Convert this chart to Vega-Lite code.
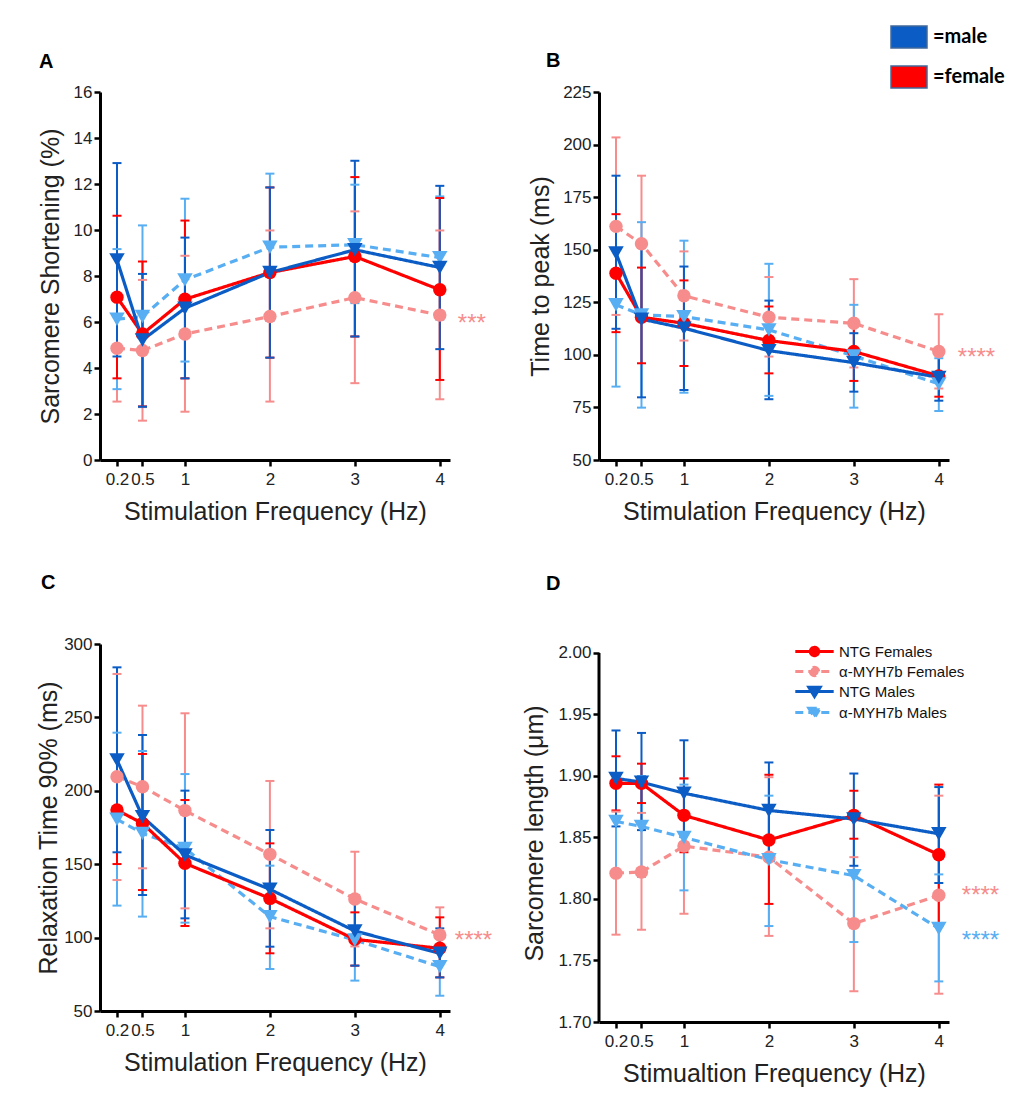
{
  "$schema": "https://vega.github.io/schema/vega-lite/v6.json",
  "padding": {"left": 36, "top": 18, "right": 5, "bottom": 5},
  "datasets": {
    "d": [
      {"p":"A","s":"α-MYH7b Females","f":0.2,"m":4.86,"lo":2.54,"hi":7.18},
      {"p":"A","s":"α-MYH7b Females","f":0.5,"m":4.76,"lo":1.71,"hi":7.83},
      {"p":"A","s":"α-MYH7b Females","f":1,"m":5.48,"lo":2.10,"hi":8.88},
      {"p":"A","s":"α-MYH7b Females","f":2,"m":6.24,"lo":2.54,"hi":9.98},
      {"p":"A","s":"α-MYH7b Females","f":3,"m":7.06,"lo":3.34,"hi":10.81},
      {"p":"A","s":"α-MYH7b Females","f":4,"m":6.30,"lo":2.64,"hi":9.98},
      {"p":"A","s":"α-MYH7b Males","f":0.2,"m":6.12,"lo":3.08,"hi":9.17},
      {"p":"A","s":"α-MYH7b Males","f":0.5,"m":6.24,"lo":2.30,"hi":10.20},
      {"p":"A","s":"α-MYH7b Males","f":1,"m":7.83,"lo":4.28,"hi":11.36},
      {"p":"A","s":"α-MYH7b Males","f":2,"m":9.25,"lo":6.05,"hi":12.45},
      {"p":"A","s":"α-MYH7b Males","f":3,"m":9.36,"lo":6.82,"hi":11.97},
      {"p":"A","s":"α-MYH7b Males","f":4,"m":8.80,"lo":6.10,"hi":11.46},
      {"p":"A","s":"NTG Females","f":0.2,"m":7.08,"lo":3.55,"hi":10.62},
      {"p":"A","s":"NTG Females","f":0.5,"m":5.48,"lo":2.33,"hi":8.63},
      {"p":"A","s":"NTG Females","f":1,"m":6.99,"lo":3.55,"hi":10.41},
      {"p":"A","s":"NTG Females","f":2,"m":8.15,"lo":4.45,"hi":11.85},
      {"p":"A","s":"NTG Females","f":3,"m":8.85,"lo":5.37,"hi":12.30},
      {"p":"A","s":"NTG Females","f":4,"m":7.40,"lo":3.48,"hi":11.39},
      {"p":"A","s":"NTG Males","f":0.2,"m":8.70,"lo":4.50,"hi":12.91},
      {"p":"A","s":"NTG Males","f":0.5,"m":5.22,"lo":2.32,"hi":8.09},
      {"p":"A","s":"NTG Males","f":1,"m":6.60,"lo":3.55,"hi":9.67},
      {"p":"A","s":"NTG Males","f":2,"m":8.15,"lo":4.45,"hi":11.85},
      {"p":"A","s":"NTG Males","f":3,"m":9.14,"lo":5.37,"hi":13.01},
      {"p":"A","s":"NTG Males","f":4,"m":8.37,"lo":4.82,"hi":11.92},

      {"p":"B","s":"α-MYH7b Females","f":0.2,"m":161.1,"lo":119.0,"hi":203.4},
      {"p":"B","s":"α-MYH7b Females","f":0.5,"m":152.8,"lo":120.5,"hi":185.2},
      {"p":"B","s":"α-MYH7b Females","f":1,"m":128.1,"lo":106.8,"hi":149.2},
      {"p":"B","s":"α-MYH7b Females","f":2,"m":117.9,"lo":99.2,"hi":137.0},
      {"p":"B","s":"α-MYH7b Females","f":3,"m":115.0,"lo":94.0,"hi":136.0},
      {"p":"B","s":"α-MYH7b Females","f":4,"m":101.6,"lo":84.0,"hi":119.3},
      {"p":"B","s":"α-MYH7b Males","f":0.2,"m":123.8,"lo":84.9,"hi":162.7},
      {"p":"B","s":"α-MYH7b Males","f":0.5,"m":119.0,"lo":74.9,"hi":163.1},
      {"p":"B","s":"α-MYH7b Males","f":1,"m":118.2,"lo":82.0,"hi":154.3},
      {"p":"B","s":"α-MYH7b Males","f":2,"m":111.9,"lo":80.5,"hi":143.3},
      {"p":"B","s":"α-MYH7b Males","f":3,"m":99.5,"lo":74.9,"hi":123.8},
      {"p":"B","s":"α-MYH7b Males","f":4,"m":86.2,"lo":73.3,"hi":98.4},
      {"p":"B","s":"NTG Females","f":0.2,"m":138.8,"lo":110.8,"hi":166.9},
      {"p":"B","s":"NTG Females","f":0.5,"m":117.9,"lo":96.0,"hi":141.5},
      {"p":"B","s":"NTG Females","f":1,"m":115.0,"lo":94.7,"hi":135.4},
      {"p":"B","s":"NTG Females","f":2,"m":106.8,"lo":91.2,"hi":123.0},
      {"p":"B","s":"NTG Females","f":3,"m":101.6,"lo":87.6,"hi":115.6},
      {"p":"B","s":"NTG Females","f":4,"m":90.0,"lo":80.1,"hi":100.0},
      {"p":"B","s":"NTG Males","f":0.2,"m":148.4,"lo":112.4,"hi":185.2},
      {"p":"B","s":"NTG Males","f":0.5,"m":117.0,"lo":79.8,"hi":154.4},
      {"p":"B","s":"NTG Males","f":1,"m":112.7,"lo":83.3,"hi":142.0},
      {"p":"B","s":"NTG Males","f":2,"m":102.0,"lo":78.9,"hi":125.8},
      {"p":"B","s":"NTG Males","f":3,"m":96.3,"lo":82.5,"hi":110.3},
      {"p":"B","s":"NTG Males","f":4,"m":89.3,"lo":78.2,"hi":100.0},

      {"p":"C","s":"α-MYH7b Females","f":0.2,"m":209.6,"lo":139.2,"hi":279.6},
      {"p":"C","s":"α-MYH7b Females","f":0.5,"m":202.8,"lo":147.2,"hi":258.0},
      {"p":"C","s":"α-MYH7b Females","f":1,"m":186.5,"lo":119.9,"hi":252.8},
      {"p":"C","s":"α-MYH7b Females","f":2,"m":156.7,"lo":106.3,"hi":206.7},
      {"p":"C","s":"α-MYH7b Females","f":3,"m":126.3,"lo":94.0,"hi":158.5},
      {"p":"C","s":"α-MYH7b Females","f":4,"m":101.8,"lo":83.0,"hi":120.6},
      {"p":"C","s":"α-MYH7b Males","f":0.2,"m":180.6,"lo":121.8,"hi":239.6},
      {"p":"C","s":"α-MYH7b Males","f":0.5,"m":171.0,"lo":114.3,"hi":227.1},
      {"p":"C","s":"α-MYH7b Males","f":1,"m":160.8,"lo":110.2,"hi":211.4},
      {"p":"C","s":"α-MYH7b Males","f":2,"m":114.3,"lo":78.6,"hi":149.0},
      {"p":"C","s":"α-MYH7b Males","f":3,"m":98.4,"lo":70.7,"hi":126.0},
      {"p":"C","s":"α-MYH7b Males","f":4,"m":80.2,"lo":60.4,"hi":100.2},
      {"p":"C","s":"NTG Females","f":0.2,"m":186.9,"lo":150.1,"hi":224.4},
      {"p":"C","s":"NTG Females","f":0.5,"m":177.8,"lo":132.4,"hi":225.1},
      {"p":"C","s":"NTG Females","f":1,"m":150.6,"lo":107.9,"hi":193.7},
      {"p":"C","s":"NTG Females","f":2,"m":126.7,"lo":89.3,"hi":164.2},
      {"p":"C","s":"NTG Females","f":3,"m":98.8,"lo":80.9,"hi":117.2},
      {"p":"C","s":"NTG Females","f":4,"m":92.7,"lo":72.9,"hi":113.8},
      {"p":"C","s":"NTG Males","f":0.2,"m":221.0,"lo":158.1,"hi":284.1},
      {"p":"C","s":"NTG Males","f":0.5,"m":182.4,"lo":129.0,"hi":238.0},
      {"p":"C","s":"NTG Males","f":1,"m":156.3,"lo":113.1,"hi":200.1},
      {"p":"C","s":"NTG Males","f":2,"m":132.9,"lo":93.8,"hi":173.3},
      {"p":"C","s":"NTG Males","f":3,"m":104.5,"lo":80.9,"hi":129.0},
      {"p":"C","s":"NTG Males","f":4,"m":89.3,"lo":72.9,"hi":106.3},

      {"p":"D","s":"α-MYH7b Females","f":0.2,"m":1.821,"lo":1.771,"hi":1.871},
      {"p":"D","s":"α-MYH7b Females","f":0.5,"m":1.822,"lo":1.775,"hi":1.870},
      {"p":"D","s":"α-MYH7b Females","f":1,"m":1.843,"lo":1.788,"hi":1.898},
      {"p":"D","s":"α-MYH7b Females","f":2,"m":1.834,"lo":1.770,"hi":1.899},
      {"p":"D","s":"α-MYH7b Females","f":3,"m":1.780,"lo":1.725,"hi":1.834},
      {"p":"D","s":"α-MYH7b Females","f":4,"m":1.803,"lo":1.723,"hi":1.884},
      {"p":"D","s":"α-MYH7b Males","f":0.2,"m":1.863,"lo":1.822,"hi":1.902},
      {"p":"D","s":"α-MYH7b Males","f":0.5,"m":1.859,"lo":1.818,"hi":1.900},
      {"p":"D","s":"α-MYH7b Males","f":1,"m":1.850,"lo":1.807,"hi":1.893},
      {"p":"D","s":"α-MYH7b Males","f":2,"m":1.832,"lo":1.778,"hi":1.884},
      {"p":"D","s":"α-MYH7b Males","f":3,"m":1.819,"lo":1.765,"hi":1.870},
      {"p":"D","s":"α-MYH7b Males","f":4,"m":1.776,"lo":1.733,"hi":1.820},
      {"p":"D","s":"NTG Females","f":0.2,"m":1.894,"lo":1.872,"hi":1.916},
      {"p":"D","s":"NTG Females","f":0.5,"m":1.894,"lo":1.878,"hi":1.910},
      {"p":"D","s":"NTG Females","f":1,"m":1.868,"lo":1.838,"hi":1.898},
      {"p":"D","s":"NTG Females","f":2,"m":1.848,"lo":1.796,"hi":1.901},
      {"p":"D","s":"NTG Females","f":3,"m":1.868,"lo":1.849,"hi":1.888},
      {"p":"D","s":"NTG Females","f":4,"m":1.836,"lo":1.778,"hi":1.893},
      {"p":"D","s":"NTG Males","f":0.2,"m":1.898,"lo":1.859,"hi":1.937},
      {"p":"D","s":"NTG Males","f":0.5,"m":1.895,"lo":1.856,"hi":1.935},
      {"p":"D","s":"NTG Males","f":1,"m":1.886,"lo":1.843,"hi":1.929},
      {"p":"D","s":"NTG Males","f":2,"m":1.872,"lo":1.832,"hi":1.911},
      {"p":"D","s":"NTG Males","f":3,"m":1.865,"lo":1.827,"hi":1.902},
      {"p":"D","s":"NTG Males","f":4,"m":1.853,"lo":1.813,"hi":1.891}
    ],
    "ann": [
      {"p":"A","s":"α-MYH7b Females","f":4,"y":6.17,"t":"***"},
      {"p":"B","s":"α-MYH7b Females","f":4,"y":101.4,"t":"****"},
      {"p":"C","s":"α-MYH7b Females","f":4,"y":101.8,"t":"****"},
      {"p":"D","s":"α-MYH7b Females","f":4,"y":1.807,"t":"****"},
      {"p":"D","s":"α-MYH7b Males","f":4,"y":1.771,"t":"****"}
    ],
    "sex": [{"sex":"male"},{"sex":"female"}],
    "one": [{"k":1}]
  },
  "columns": 2,
  "bounds": "flush",
  "spacing": {"row": 184, "column": 149},
  "resolve": {"legend": {"fill": "independent", "strokeDash": "independent", "color": "independent"}},
  "concat": [
    {
      "width": 350, "height": 368,
      "title": {"text": "A", "dx": -61, "offset": 11},
      "layer": [
        {"data": {"name": "d"}, "transform": [{"filter": "datum.p === 'A'"}],
         "mark": {"type": "rule", "strokeWidth": 2},
         "encoding": {
           "x": {"field": "f", "type": "quantitative", "scale": {"domain": [0, 4.12], "nice": false}, "axis": {"values": [0.2, 0.5, 1, 2, 3, 4], "format": "~g", "title": "Stimulation Frequency (Hz)"}},
           "y": {"field": "lo", "type": "quantitative", "scale": {"domain": [0, 16], "nice": false}, "axis": {"values": [0, 2, 4, 6, 8, 10, 12, 14, 16], "title": "Sarcomere Shortening (%)", "titlePadding": 10}},
           "y2": {"field": "hi"},
           "color": {"field": "s", "type": "nominal", "scale": {"domain": ["NTG Females", "α-MYH7b Females", "NTG Males", "α-MYH7b Males"], "range": ["#ff0000", "#f78c8c", "#0b5cc4", "#58aef2"]}, "legend": null}
         }},
        {"data": {"name": "d"}, "transform": [{"filter": "datum.p === 'A'"}],
         "mark": {"type": "tick", "orient": "horizontal", "size": 9, "thickness": 2, "opacity": 1},
         "encoding": {"x": {"field": "f", "type": "quantitative"}, "y": {"field": "lo", "type": "quantitative"}, "color": {"field": "s", "type": "nominal", "legend": null}}},
        {"data": {"name": "d"}, "transform": [{"filter": "datum.p === 'A'"}],
         "mark": {"type": "tick", "orient": "horizontal", "size": 9, "thickness": 2, "opacity": 1},
         "encoding": {"x": {"field": "f", "type": "quantitative"}, "y": {"field": "hi", "type": "quantitative"}, "color": {"field": "s", "type": "nominal", "legend": null}}},
        {"data": {"name": "d"}, "transform": [{"filter": "datum.p === 'A'"}],
         "mark": {"type": "line", "strokeWidth": 3.2},
         "encoding": {"x": {"field": "f", "type": "quantitative"}, "y": {"field": "m", "type": "quantitative"}, "color": {"field": "s", "type": "nominal", "legend": null},
           "strokeDash": {"field": "s", "type": "nominal", "scale": {"domain": ["NTG Females", "α-MYH7b Females", "NTG Males", "α-MYH7b Males"], "range": [[1, 0], [8, 5], [1, 0], [8, 5]]}, "legend": null}}},
        {"data": {"name": "d"}, "transform": [{"filter": "datum.p === 'A' && indexof(datum.s, 'Females') >= 0"}],
         "mark": {"type": "point", "shape": "circle", "size": 180, "filled": true, "opacity": 1},
         "encoding": {"x": {"field": "f", "type": "quantitative"}, "y": {"field": "m", "type": "quantitative"}, "color": {"field": "s", "type": "nominal", "legend": null}}},
        {"data": {"name": "d"}, "transform": [{"filter": "datum.p === 'A' && indexof(datum.s, 'Females') < 0"}],
         "mark": {"type": "point", "shape": "triangle-down", "size": 240, "filled": true, "opacity": 1},
         "encoding": {"x": {"field": "f", "type": "quantitative"}, "y": {"field": "m", "type": "quantitative"}, "color": {"field": "s", "type": "nominal", "legend": null}}},
        {"data": {"name": "ann"}, "transform": [{"filter": "datum.p === 'A'"}],
         "mark": {"type": "text", "fontSize": 24, "align": "left", "baseline": "alphabetic", "dx": 18, "dy": 13},
         "encoding": {"x": {"field": "f", "type": "quantitative"}, "y": {"field": "y", "type": "quantitative"}, "text": {"field": "t"}, "color": {"field": "s", "type": "nominal", "legend": null}}}
      ]
    },
    {
      "width": 350, "height": 368,
      "title": {"text": "B", "dx": -53, "offset": 16, "dy": 69},
      "layer": [
        {"data": {"name": "d"}, "transform": [{"filter": "datum.p === 'B'"}],
         "mark": {"type": "rule", "strokeWidth": 2},
         "encoding": {
           "x": {"field": "f", "type": "quantitative", "scale": {"domain": [0, 4.12], "nice": false}, "axis": {"values": [0.2, 0.5, 1, 2, 3, 4], "format": "~g", "title": "Stimulation Frequency (Hz)"}},
           "y": {"field": "lo", "type": "quantitative", "scale": {"domain": [50, 225], "nice": false}, "axis": {"values": [50, 75, 100, 125, 150, 175, 200, 225], "title": "Time to peak (ms)", "titlePadding": 9}},
           "y2": {"field": "hi"},
           "color": {"field": "s", "type": "nominal", "legend": null}
         }},
        {"data": {"name": "d"}, "transform": [{"filter": "datum.p === 'B'"}],
         "mark": {"type": "tick", "orient": "horizontal", "size": 9, "thickness": 2, "opacity": 1},
         "encoding": {"x": {"field": "f", "type": "quantitative"}, "y": {"field": "lo", "type": "quantitative"}, "color": {"field": "s", "type": "nominal", "legend": null}}},
        {"data": {"name": "d"}, "transform": [{"filter": "datum.p === 'B'"}],
         "mark": {"type": "tick", "orient": "horizontal", "size": 9, "thickness": 2, "opacity": 1},
         "encoding": {"x": {"field": "f", "type": "quantitative"}, "y": {"field": "hi", "type": "quantitative"}, "color": {"field": "s", "type": "nominal", "legend": null}}},
        {"data": {"name": "d"}, "transform": [{"filter": "datum.p === 'B'"}],
         "mark": {"type": "line", "strokeWidth": 3.2},
         "encoding": {"x": {"field": "f", "type": "quantitative"}, "y": {"field": "m", "type": "quantitative"}, "color": {"field": "s", "type": "nominal", "legend": null},
           "strokeDash": {"field": "s", "type": "nominal", "legend": null}}},
        {"data": {"name": "d"}, "transform": [{"filter": "datum.p === 'B' && indexof(datum.s, 'Females') >= 0"}],
         "mark": {"type": "point", "shape": "circle", "size": 180, "filled": true, "opacity": 1},
         "encoding": {"x": {"field": "f", "type": "quantitative"}, "y": {"field": "m", "type": "quantitative"}, "color": {"field": "s", "type": "nominal", "legend": null}}},
        {"data": {"name": "d"}, "transform": [{"filter": "datum.p === 'B' && indexof(datum.s, 'Females') < 0"}],
         "mark": {"type": "point", "shape": "triangle-down", "size": 240, "filled": true, "opacity": 1},
         "encoding": {"x": {"field": "f", "type": "quantitative"}, "y": {"field": "m", "type": "quantitative"}, "color": {"field": "s", "type": "nominal", "legend": null}}},
        {"data": {"name": "ann"}, "transform": [{"filter": "datum.p === 'B'"}],
         "mark": {"type": "text", "fontSize": 24, "align": "left", "baseline": "alphabetic", "dx": 19, "dy": 13},
         "encoding": {"x": {"field": "f", "type": "quantitative"}, "y": {"field": "y", "type": "quantitative"}, "text": {"field": "t"}, "color": {"field": "s", "type": "nominal", "legend": null}}},
        {"data": {"name": "sex"},
         "mark": {"type": "point", "filled": true, "opacity": 0},
         "encoding": {"fill": {"field": "sex", "type": "nominal", "scale": {"domain": ["male", "female"], "range": ["#0b5cc4", "#ff0000"]},
           "legend": {"orient": "none", "legendX": 291, "legendY": -74, "title": null,
             "symbolType": "M-1,-0.611L1,-0.611L1,0.611L-1,0.611Z", "symbolSize": 1296,
             "symbolStrokeColor": "#41689a", "symbolStrokeWidth": 1.5,
             "labelFont": "Lato", "labelFontWeight": "bold", "labelFontSize": 20, "labelColor": "#000",
             "labelOffset": 5, "rowPadding": 7, "labelExpr": "'=' + datum.label",
             "encode": {"symbols": {"update": {"opacity": {"value": 1}, "stroke": {"value": "#41689a"}, "strokeWidth": {"value": 1.5}}}}}}}}
      ]
    },
    {
      "width": 350, "height": 367,
      "title": {"text": "C", "dx": -59, "offset": 42},
      "layer": [
        {"data": {"name": "d"}, "transform": [{"filter": "datum.p === 'C'"}],
         "mark": {"type": "rule", "strokeWidth": 2},
         "encoding": {
           "x": {"field": "f", "type": "quantitative", "scale": {"domain": [0, 4.12], "nice": false}, "axis": {"values": [0.2, 0.5, 1, 2, 3, 4], "format": "~g", "title": "Stimulation Frequency (Hz)"}},
           "y": {"field": "lo", "type": "quantitative", "scale": {"domain": [50, 300], "nice": false}, "axis": {"values": [50, 75, 100, 125, 150, 175, 200, 225, 250, 275, 300], "title": "Relaxation Time 90% (ms)", "titlePadding": 2}},
           "y2": {"field": "hi"},
           "color": {"field": "s", "type": "nominal", "legend": null}
         }},
        {"data": {"name": "d"}, "transform": [{"filter": "datum.p === 'C'"}],
         "mark": {"type": "tick", "orient": "horizontal", "size": 9, "thickness": 2, "opacity": 1},
         "encoding": {"x": {"field": "f", "type": "quantitative"}, "y": {"field": "lo", "type": "quantitative"}, "color": {"field": "s", "type": "nominal", "legend": null}}},
        {"data": {"name": "d"}, "transform": [{"filter": "datum.p === 'C'"}],
         "mark": {"type": "tick", "orient": "horizontal", "size": 9, "thickness": 2, "opacity": 1},
         "encoding": {"x": {"field": "f", "type": "quantitative"}, "y": {"field": "hi", "type": "quantitative"}, "color": {"field": "s", "type": "nominal", "legend": null}}},
        {"data": {"name": "d"}, "transform": [{"filter": "datum.p === 'C'"}],
         "mark": {"type": "line", "strokeWidth": 3.2},
         "encoding": {"x": {"field": "f", "type": "quantitative"}, "y": {"field": "m", "type": "quantitative"}, "color": {"field": "s", "type": "nominal", "legend": null},
           "strokeDash": {"field": "s", "type": "nominal", "legend": null}}},
        {"data": {"name": "d"}, "transform": [{"filter": "datum.p === 'C' && indexof(datum.s, 'Females') >= 0"}],
         "mark": {"type": "point", "shape": "circle", "size": 180, "filled": true, "opacity": 1},
         "encoding": {"x": {"field": "f", "type": "quantitative"}, "y": {"field": "m", "type": "quantitative"}, "color": {"field": "s", "type": "nominal", "legend": null}}},
        {"data": {"name": "d"}, "transform": [{"filter": "datum.p === 'C' && indexof(datum.s, 'Females') < 0"}],
         "mark": {"type": "point", "shape": "triangle-down", "size": 240, "filled": true, "opacity": 1},
         "encoding": {"x": {"field": "f", "type": "quantitative"}, "y": {"field": "m", "type": "quantitative"}, "color": {"field": "s", "type": "nominal", "legend": null}}},
        {"data": {"name": "ann"}, "transform": [{"filter": "datum.p === 'C'"}],
         "mark": {"type": "text", "fontSize": 24, "align": "left", "baseline": "alphabetic", "dx": 15, "dy": 13},
         "encoding": {"x": {"field": "f", "type": "quantitative"}, "y": {"field": "y", "type": "quantitative"}, "text": {"field": "t"}, "color": {"field": "s", "type": "nominal", "legend": null}}}
      ]
    },
    {
      "width": 350, "height": 378,
      "title": {"text": "D", "dx": -53, "offset": 50},
      "layer": [
        {"data": {"name": "d"}, "transform": [{"filter": "datum.p === 'D'"}],
         "mark": {"type": "rule", "strokeWidth": 2},
         "encoding": {
           "x": {"field": "f", "type": "quantitative", "scale": {"domain": [0, 4.12], "nice": false}, "axis": {"values": [0.2, 0.5, 1, 2, 3, 4], "format": "~g", "title": "Stimualtion Frequency (Hz)"}},
           "y": {"field": "lo", "type": "quantitative", "scale": {"domain": [1.70, 2.0073], "nice": false, "zero": false}, "axis": {"values": [1.70, 1.75, 1.80, 1.85, 1.90, 1.95, 2.00], "format": ".2f", "domain": false, "title": "Sarcomere length (μm)", "titlePadding": 10}},
           "y2": {"field": "hi"},
           "color": {"field": "s", "type": "nominal",
             "legend": {"orient": "none", "legendX": 208, "legendY": 0, "title": null,
               "symbolSize": 144, "symbolStrokeWidth": 3, "labelFontSize": 15, "labelColor": "#111",
               "labelOffset": 17, "rowPadding": -1,
               "encode": {"symbols": {"update": {
                 "shape": {"signal": "indexof(datum.value, 'Males') >= 0 ? 'M-3.2,0L3.2,0M-0.95,-0.7L0.95,-0.7L0,0.85Z' : 'M-3.2,0L3.2,0M-0.7,0A0.7,0.7,0,1,0,0.7,0A0.7,0.7,0,1,0,-0.7,0Z'"},
                 "stroke": {"scale": "color", "field": "value"},
                 "fill": {"scale": "color", "field": "value"},
                 "strokeWidth": {"value": 3},
                 "size": {"value": 144},
                 "opacity": {"value": 1}}}}}}
         }},
        {"data": {"name": "one"},
         "mark": {"type": "rule", "strokeWidth": 3, "color": "#000"},
         "encoding": {"x": {"datum": 0}, "y": {"datum": 1.70}, "y2": {"datum": 2.00}}},
        {"data": {"name": "d"}, "transform": [{"filter": "datum.p === 'D'"}],
         "mark": {"type": "tick", "orient": "horizontal", "size": 9, "thickness": 2, "opacity": 1},
         "encoding": {"x": {"field": "f", "type": "quantitative"}, "y": {"field": "lo", "type": "quantitative"}, "color": {"field": "s", "type": "nominal"}}},
        {"data": {"name": "d"}, "transform": [{"filter": "datum.p === 'D'"}],
         "mark": {"type": "tick", "orient": "horizontal", "size": 9, "thickness": 2, "opacity": 1},
         "encoding": {"x": {"field": "f", "type": "quantitative"}, "y": {"field": "hi", "type": "quantitative"}, "color": {"field": "s", "type": "nominal"}}},
        {"data": {"name": "d"}, "transform": [{"filter": "datum.p === 'D'"}],
         "mark": {"type": "line", "strokeWidth": 3.2},
         "encoding": {"x": {"field": "f", "type": "quantitative"}, "y": {"field": "m", "type": "quantitative"},
           "strokeDash": {"field": "s", "type": "nominal"},
           "color": {"field": "s", "type": "nominal"}}},
        {"data": {"name": "d"}, "transform": [{"filter": "datum.p === 'D' && indexof(datum.s, 'Females') >= 0"}],
         "mark": {"type": "point", "shape": "circle", "size": 180, "filled": true, "opacity": 1},
         "encoding": {"x": {"field": "f", "type": "quantitative"}, "y": {"field": "m", "type": "quantitative"}, "color": {"field": "s", "type": "nominal"}}},
        {"data": {"name": "d"}, "transform": [{"filter": "datum.p === 'D' && indexof(datum.s, 'Females') < 0"}],
         "mark": {"type": "point", "shape": "triangle-down", "size": 240, "filled": true, "opacity": 1},
         "encoding": {"x": {"field": "f", "type": "quantitative"}, "y": {"field": "m", "type": "quantitative"}, "color": {"field": "s", "type": "nominal"}}},
        {"data": {"name": "ann"}, "transform": [{"filter": "datum.p === 'D'"}],
         "mark": {"type": "text", "fontSize": 24, "align": "left", "baseline": "alphabetic", "dx": 23, "dy": 13},
         "encoding": {"x": {"field": "f", "type": "quantitative"}, "y": {"field": "y", "type": "quantitative"}, "text": {"field": "t"}, "color": {"field": "s", "type": "nominal"}}}
      ]
    }
  ],
  "config": {
    "font": "Liberation Sans",
    "view": {"stroke": null},
    "title": {"fontSize": 20, "fontWeight": "bold", "anchor": "start", "frame": "group", "color": "#000", "font": "Liberation Sans"},
    "axis": {"domainColor": "#000", "domainWidth": 3, "tickColor": "#000", "tickWidth": 2.5, "tickSize": 6, "labelFontSize": 17, "labelColor": "#222", "labelFont": "Liberation Sans", "titleFont": "Liberation Sans", "titleFontSize": 25, "titleFontWeight": "normal", "titleColor": "#222", "grid": false, "labelOverlap": false, "labelFlush": false},
    "axisX": {"labelPadding": 5, "titlePadding": 12},
    "legend": {"padding": 0, "labelFont": "Liberation Sans"}
  }
}
